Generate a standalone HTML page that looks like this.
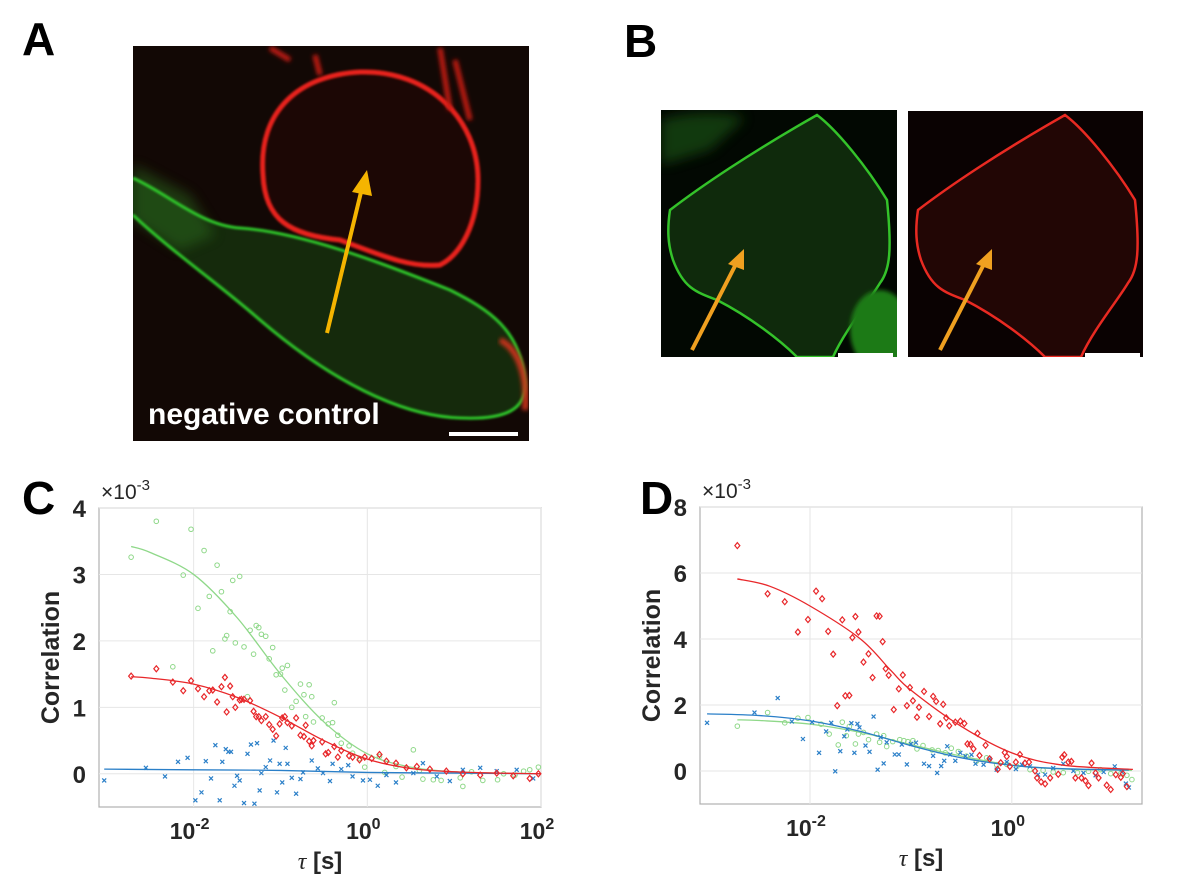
<!DOCTYPE html>
<html><head><meta charset="utf-8"><style>
html,body{margin:0;padding:0;background:#fff;}
svg{display:block;font-family:"Liberation Sans",Arial,sans-serif;}
</style></head><body>
<svg id="fig" width="1200" height="874" viewBox="0 0 1200 874" xmlns="http://www.w3.org/2000/svg">
<defs>
<filter id="blur2" x="-10%" y="-10%" width="120%" height="120%"><feGaussianBlur stdDeviation="2"/></filter>
<filter id="blur1"><feGaussianBlur stdDeviation="1"/></filter>
<filter id="blur6" x="-20%" y="-20%" width="140%" height="140%"><feGaussianBlur stdDeviation="6"/></filter>
<clipPath id="clipA"><rect x="133" y="46" width="396" height="395"/></clipPath>
<clipPath id="clipB1"><rect x="661" y="110" width="236" height="247"/></clipPath>
<clipPath id="clipB2"><rect x="908" y="111" width="235" height="246"/></clipPath>
</defs>
<text x="22" y="55" font-size="46" font-weight="bold">A</text>
<text x="624" y="57" font-size="46" font-weight="bold">B</text>
<text x="22" y="514" font-size="46" font-weight="bold">C</text>
<text x="640" y="514" font-size="46" font-weight="bold">D</text>

<g clip-path="url(#clipA)">
<rect x="133" y="46" width="396" height="395" fill="#120805"/>
<path d="M263,175 C258,110 300,75 360,72 C430,70 478,120 478,180 C478,225 460,255 440,265 C410,268 380,255 340,240 C290,235 265,220 263,175 Z" fill="#1c0705"/>
<path d="M133,178 C170,195 200,225 240,228 C300,232 380,262 450,290 C490,310 520,330 525,380 C528,410 505,420 460,418 C400,416 330,380 260,320 C220,285 170,250 133,215 Z" fill="#152a0c"/>
<path d="M133,165 L190,195 L215,235 L180,250 L133,220 Z" fill="#2a6a1a" filter="url(#blur6)" opacity="0.5"/>
<path d="M133,178 C170,195 200,225 240,228 C300,232 380,262 450,290 C490,310 520,330 525,380 C528,410 505,420 460,418 C400,416 330,380 260,320 C220,285 170,250 133,215" fill="none" stroke="#2ec82a" stroke-width="3" filter="url(#blur1)"/>
<path d="M263,175 C258,110 300,75 360,72 C430,70 478,120 478,180 C478,225 460,255 440,265 C410,268 380,255 340,240 C290,235 265,220 263,175 Z" fill="none" stroke="#e8241e" stroke-width="5" filter="url(#blur1)"/>
<path d="M270,48 L290,60 M315,55 L320,75 M440,48 L450,110 M455,60 L470,120" stroke="#c81a14" stroke-width="5" filter="url(#blur2)"/>
<path d="M500,340 C520,350 528,380 525,410" stroke="#c8321a" stroke-width="6" fill="none" filter="url(#blur2)"/>
<line x1="327" y1="333" x2="362" y2="188" stroke="#f5b400" stroke-width="4"/>
<polygon points="367,170 352,192 372,196" fill="#f5b400"/>
<text x="148" y="424" font-size="30" font-weight="bold" fill="#fff">negative control</text>
<rect x="449" y="432" width="69" height="4" fill="#fff"/>
</g>

<g clip-path="url(#clipB1)">
<rect x="661" y="110" width="236" height="247" fill="#020802"/>
<path d="M661,120 C690,110 730,112 745,118 L710,150 L661,165 Z" fill="#1a5a12" filter="url(#blur6)" opacity="0.6"/>
<path d="M670,210 C700,187 750,153 817,115 C837,130 867,167 887,200 C892,250 890,270 880,283 C870,300 845,330 833,357 L797,357 C780,340 750,317 717,300 C695,292 683,287 673,260 C668,245 667,230 670,210 Z" fill="#0f2a0c" stroke="#34c22a" stroke-width="2.5"/>
<ellipse cx="880" cy="330" rx="30" ry="40" fill="#1e7a18" filter="url(#blur2)"/>
<line x1="692" y1="350" x2="737" y2="262" stroke="#f0a020" stroke-width="4"/>
<polygon points="744,249 728,264 744,270" fill="#f0a020"/>
<rect x="838" y="353" width="55" height="4" fill="#fff"/>
</g>
<g clip-path="url(#clipB2)">
<rect x="908" y="111" width="235" height="246" fill="#0a0202"/>
<g transform="translate(248,0)">
<path d="M670,210 C700,187 750,153 817,115 C837,130 867,167 887,200 C892,250 890,270 880,283 C870,300 845,330 833,357 L797,357 C780,340 750,317 717,300 C695,292 683,287 673,260 C668,245 667,230 670,210 Z" fill="#220605" stroke="#e82a22" stroke-width="2.5"/>
</g>
<line x1="940" y1="350" x2="985" y2="262" stroke="#f0a020" stroke-width="4"/>
<polygon points="992,249 976,264 992,270" fill="#f0a020"/>
<rect x="1085" y="353" width="55" height="4" fill="#fff"/>
</g>
<g id="chartC"></g>
<g id="chartD"></g>
</svg>
<script>
// ---- Chart C data (x = log10 tau [s], y = correlation x1e-3) ----
const cGreenX=[-2.72,-2.43,-2.24,-2.12,-2.03,-1.95,-1.88,-1.82,-1.78,-1.73,-1.68,-1.64,-1.62,-1.58,-1.55,-1.52,-1.47,-1.42,-1.38,-1.35,-1.31,-1.28,-1.25,-1.22,-1.17,-1.13,-1.09,-1.05,-1.0,-0.98,-0.95,-0.92,-0.87,-0.82,-0.77,-0.73,-0.71,-0.67,-0.64,-0.62,-0.52,-0.45,-0.4,-0.38,-0.34,-0.3,-0.21,-0.17,-0.09,-0.03,0.14,0.2,0.33,0.4,0.53,0.6,0.64,0.76,0.85,1.07,1.1,1.2,1.33,1.5,1.57,1.7,1.8,1.87,1.97];
const cGreenY=[3.26,3.8,1.61,2.99,3.68,2.49,3.36,2.67,1.85,3.14,2.74,2.03,2.08,2.44,2.91,1.97,2.97,1.91,1.16,2.16,1.8,2.23,2.2,2.1,2.07,1.73,1.9,1.49,1.5,1.59,1.26,1.63,1.0,1.09,1.35,1.19,0.86,1.34,1.16,0.78,0.84,0.75,0.77,1.07,0.58,0.46,0.42,0.31,0.23,0.1,0.26,0.02,0.11,-0.05,0.36,0.05,-0.08,-0.09,-0.1,-0.06,-0.19,0.03,-0.1,-0.09,0,-0.02,0.04,0.06,0.1];
const cRedX=[-2.72,-2.43,-2.24,-2.12,-2.03,-1.95,-1.88,-1.82,-1.78,-1.73,-1.68,-1.64,-1.62,-1.58,-1.55,-1.52,-1.47,-1.45,-1.42,-1.35,-1.31,-1.28,-1.25,-1.22,-1.17,-1.13,-1.09,-1.05,-1.01,-0.98,-0.95,-0.92,-0.87,-0.82,-0.77,-0.73,-0.71,-0.67,-0.64,-0.62,-0.52,-0.48,-0.45,-0.38,-0.34,-0.3,-0.21,-0.17,-0.09,-0.03,0.05,0.14,0.22,0.33,0.45,0.57,0.72,0.91,1.1,1.3,1.49,1.68,1.87,1.97];
const cRedY=[1.47,1.58,1.38,1.25,1.4,1.28,1.16,1.25,1.26,1.08,1.31,1.45,0.93,1.32,1.16,1.0,1.11,1.12,1.12,1.1,0.94,0.86,0.86,0.8,0.86,0.74,0.67,0.57,0.75,0.84,0.86,0.77,0.72,0.84,0.58,0.56,0.73,0.49,0.42,0.5,0.48,0.3,0.32,0.41,0.25,0.35,0.27,0.25,0.21,0.25,0.23,0.29,0.19,0.16,0.09,0.11,0.07,0.04,0,-0.02,0.01,-0.03,-0.07,0];
const cBlueX=[-3.03,-2.55,-2.33,-2.18,-2.07,-1.98,-1.91,-1.86,-1.8,-1.75,-1.7,-1.67,-1.63,-1.6,-1.57,-1.53,-1.5,-1.47,-1.42,-1.38,-1.34,-1.3,-1.27,-1.24,-1.22,-1.17,-1.12,-1.08,-1.04,-1.01,-0.98,-0.94,-0.92,-0.87,-0.82,-0.77,-0.74,-0.64,-0.57,-0.51,-0.43,-0.4,-0.3,-0.22,-0.17,-0.05,0.03,0.12,0.22,0.33,0.53,0.64,0.8,0.95,1.1,1.3,1.49,1.72,1.91];
const cBlueY=[-0.1,0.09,-0.04,0.18,0.24,-0.4,-0.28,0.19,-0.07,0.43,-0.4,0.18,0.37,0.33,0.33,-0.18,-0.03,-0.1,-0.44,0.3,0.44,-0.45,0.46,-0.25,0.01,0.1,0.2,0.5,-0.28,0.15,-0.13,0.39,0.15,-0.06,-0.3,-0.08,0.02,0.2,0.08,0.01,-0.11,0.15,0.07,0.13,-0.04,-0.1,-0.09,-0.18,-0.02,-0.13,0.01,0.16,-0.04,-0.11,0.06,0.09,0.04,0.06,-0.07];
const cFitX=[-2.72,-2.5,-2.0,-1.5,-1.0,-0.5,0,0.5,1,1.5,2];
const cGreenFit=[3.42,3.33,3.0,2.35,1.5,0.78,0.3,0.1,0.03,0.01,0];
const cRedFit=[1.46,1.44,1.35,1.15,0.85,0.5,0.22,0.08,0.03,0.01,0];
const cBlueFitX=[-3.03,-2,-1,0,1,2];
const cBlueFit=[0.07,0.06,0.05,0.02,0.01,0];
const cYTicks=[0,1,2,3,4];
const cXTicks=[-2,0,2];
// ---- Chart D data ----
const dRedX=[-2.72,-2.42,-2.25,-2.12,-2.02,-1.94,-1.88,-1.82,-1.77,-1.73,-1.68,-1.65,-1.61,-1.58,-1.55,-1.52,-1.47,-1.42,-1.38,-1.34,-1.31,-1.28,-1.25,-1.22,-1.17,-1.12,-1.08,-1.04,-1.01,-0.98,-0.94,-0.92,-0.87,-0.82,-0.78,-0.75,-0.71,-0.68,-0.65,-0.62,-0.56,-0.51,-0.47,-0.44,-0.41,-0.38,-0.34,-0.32,-0.26,-0.22,-0.14,-0.11,-0.07,-0.05,-0.02,0.04,0.08,0.13,0.17,0.23,0.25,0.29,0.33,0.38,0.46,0.5,0.52,0.56,0.59,0.63,0.69,0.73,0.76,0.79,0.83,0.86,0.94,0.98,1.03,1.08,1.1,1.14];
const dRedY=[6.83,5.37,5.13,4.21,4.59,5.45,5.22,4.23,3.54,1.98,4.58,2.28,2.29,4.04,4.68,4.21,3.3,3.55,2.83,4.7,4.69,3.92,3.1,2.9,1.86,2.49,2.91,1.98,2.53,2.13,1.63,1.93,2.41,1.65,2.26,2.11,1.43,2.02,1.61,1.37,1.48,1.51,1.44,0.82,0.81,0.67,1.14,0.47,0.78,0.37,0.05,0.25,0.56,0.44,0.14,0.27,0.5,0.24,0.27,0,-0.21,-0.33,-0.39,-0.21,-0.1,0.42,0.49,0.27,0.29,-0.21,-0.21,-0.3,-0.44,0.24,-0.06,-0.21,-0.43,-0.56,-0.11,-0.19,-0.08,-0.47];
const dBlueX=[-3.02,-2.55,-2.32,-2.18,-2.07,-1.98,-1.91,-1.84,-1.79,-1.75,-1.7,-1.66,-1.63,-1.59,-1.56,-1.53,-1.51,-1.45,-1.41,-1.37,-1.33,-1.3,-1.27,-1.24,-1.16,-1.12,-1.09,-1.04,-1.0,-0.95,-0.87,-0.82,-0.78,-0.74,-0.7,-0.67,-0.64,-0.61,-0.56,-0.51,-0.46,-0.4,-0.36,-0.28,-0.22,-0.15,-0.05,0.04,0.1,0.18,0.26,0.33,0.41,0.51,0.61,0.71,0.83,0.91,1.02,1.09,1.13,1.16];
const dBlueY=[1.46,1.77,2.21,1.5,0.97,1.48,0.55,1.2,1.46,-0.01,0.6,1.05,1.26,1.45,0.55,1.43,1.32,0.77,0.58,1.65,0.04,1.02,0.23,0.87,0.5,0.5,0.8,0.2,0.82,0.86,0.22,0.15,0.46,-0.06,0.15,0.31,0.75,0.5,0.31,0.55,0.45,0.49,0.22,0.19,0.37,0.04,0.27,0.06,0.19,0.14,-0.11,-0.11,0.09,0.22,0,-0.06,-0.13,-0.03,0.14,-0.03,-0.38,-0.5];
const dGreenX=[-2.72,-2.42,-2.25,-2.12,-2.02,-1.89,-1.81,-1.72,-1.68,-1.64,-1.61,-1.55,-1.52,-1.47,-1.42,-1.34,-1.31,-1.27,-1.24,-1.18,-1.11,-1.07,-1.03,-0.98,-0.94,-0.88,-0.79,-0.73,-0.66,-0.6,-0.53,-0.45,-0.35,-0.25,-0.15,-0.05,0.05,0.18,0.31,0.41,0.51,0.65,0.76,0.88,0.98,1.08,1.14,1.19];
const dGreenY=[1.36,1.77,1.46,1.6,1.62,1.42,1.12,0.79,1.48,1.07,1.35,0.82,1.12,1.17,0.95,1.12,0.87,1.07,0.74,0.89,0.95,0.92,0.89,0.92,0.67,0.77,0.64,0.62,0.55,0.69,0.59,0.45,0.3,0.4,0.19,0.2,0.14,0.04,0.02,-0.03,-0.05,-0.05,-0.01,0.04,-0.08,-0.08,-0.13,-0.26];
const dRedFitX=[-2.72,-2.4,-2,-1.5,-1.2,-1,-0.5,0,0.5,1.2];
const dRedFit=[5.82,5.6,5.0,4.0,3.05,2.45,1.35,0.55,0.18,0.05];
const dBlueFitX=[-3.02,-2.5,-2,-1.5,-1,-0.5,0,0.5,1.16];
const dBlueFit=[1.73,1.68,1.52,1.2,0.77,0.4,0.17,0.07,0.03];
const dGreenFitX=[-2.72,-2.5,-2,-1.5,-1,-0.5,0,0.5,1.19];
const dGreenFit=[1.55,1.53,1.42,1.17,0.8,0.45,0.18,0.06,0.02];
const dYTicks=[0,2,4,6,8];
const dXTicks=[-2,0];

const NS='http://www.w3.org/2000/svg';
function mk(parent,tag,attrs){const e=document.createElementNS(NS,tag);for(const k in attrs)e.setAttribute(k,attrs[k]);parent.appendChild(e);return e;}
const RED='#e8272a',GREEN='#8fd889',BLUE='#2a7fc8';

function drawChart(g,cfg){
  const sx=v=>cfg.x0+(v-cfg.xmin)/(cfg.xmax-cfg.xmin)*(cfg.x1-cfg.x0);
  const sy=v=>cfg.y1-(v-cfg.ymin)/(cfg.ymax-cfg.ymin)*(cfg.y1-cfg.y0);
  const bg=mk(g,'rect',{x:cfg.x0,y:cfg.y0,width:cfg.x1-cfg.x0,height:cfg.y1-cfg.y0,fill:'#fff',stroke:'#b0b0b0','stroke-width':1.2});
  
  
  cfg.yticks.forEach(t=>{
    const l=mk(g,'line',{x1:cfg.x0,x2:cfg.x1,y1:sy(t),y2:sy(t),stroke:'#e6e6e6','stroke-width':1});
    
    
    const tx=mk(g,'text',{x:cfg.x0-13,y:sy(t)+9,'font-size':24,'font-weight':'bold','text-anchor':'end',fill:'#262626'});
    tx.textContent=t;
    
    
  });
  cfg.xticks.forEach(t=>{
    const l=mk(g,'line',{x1:sx(t),x2:sx(t),y1:cfg.y0,y2:cfg.y1,stroke:'#e6e6e6','stroke-width':1});
    
    
    const tx=mk(g,'text',{x:sx(t)-4,y:cfg.y1+32,'font-size':23,'font-weight':'bold','text-anchor':'middle',fill:'#262626'});
    tx.textContent='10';
    const sup=mk(tx,'tspan',{dy:-10,'font-size':16});sup.textContent=String(t);
    
    
  });
  const ex=mk(g,'text',{x:cfg.x0+2,y:cfg.y0-9,'font-size':21,fill:'#262626'});
  ex.textContent='\u00d710';const es=mk(ex,'tspan',{dy:-9,'font-size':15});es.textContent='-3';
  
  
  const yt=mk(g,'text',{x:0,y:0,'font-size':25,'font-weight':'bold','text-anchor':'middle',fill:'#262626',transform:`translate(${cfg.x0-40},${(cfg.y0+cfg.y1)/2}) rotate(-90)`});
  yt.textContent='Correlation';
  
  
  const xt=mk(g,'text',{x:(cfg.x0+cfg.x1)/2,y:cfg.y1+62,'font-size':24,'font-weight':'bold','text-anchor':'middle',fill:'#262626'});
  const tau=mk(xt,'tspan',{'font-family':'Liberation Serif,serif','font-style':'italic','font-weight':'normal'});tau.textContent='\u03c4';
  const rest=mk(xt,'tspan',{});rest.textContent=' [s]';
  
  
  cfg.series.forEach(s=>{
    const sg=mk(g,'g',{});
    
    
    s.xs.forEach((xv,i)=>{
      const px=sx(xv),py=sy(s.ys[i]);
      if(s.marker==='o'){const m=mk(sg,'circle',{cx:px,cy:py,r:2.3,fill:'none',stroke:s.color,'stroke-width':1});}
      else if(s.marker==='d'){const m=mk(sg,'polygon',{points:`${px},${py-3} ${px+2.5},${py} ${px},${py+3} ${px-2.5},${py}`,fill:'none',stroke:s.color,'stroke-width':1.2});}
      else {const m=mk(sg,'path',{d:`M${px-2},${py-2}L${px+2},${py+2}M${px-2},${py+2}L${px+2},${py-2}`,stroke:s.color,'stroke-width':1.2});}
    });
    const pts=s.fx.map((xv,i)=>[sx(xv),sy(s.fy[i])]);
    let d='M'+pts[0][0]+','+pts[0][1];
    for(let i=0;i<pts.length-1;i++){
      const p0=pts[Math.max(0,i-1)],p1=pts[i],p2=pts[i+1],p3=pts[Math.min(pts.length-1,i+2)];
      const c1=[p1[0]+(p2[0]-p0[0])/6,p1[1]+(p2[1]-p0[1])/6],c2=[p2[0]-(p3[0]-p1[0])/6,p2[1]-(p3[1]-p1[1])/6];
      d+=`C${c1[0]},${c1[1]} ${c2[0]},${c2[1]} ${p2[0]},${p2[1]}`;
    }
    const fl=mk(sg,'path',{d:d,fill:'none',stroke:s.color,'stroke-width':1.3});
    
    
  });
}
drawChart(document.getElementById('chartC'),{x0:99,x1:541,y0:508,y1:807,xmin:-3.09,xmax:2,ymin:-0.5,ymax:4,yticks:cYTicks,xticks:cXTicks,
  series:[
    {name:'series-green',color:GREEN,marker:'o',xs:cGreenX,ys:cGreenY,fx:cFitX,fy:cGreenFit},
    {name:'series-blue',color:BLUE,marker:'x',xs:cBlueX,ys:cBlueY,fx:cBlueFitX,fy:cBlueFit},
    {name:'series-red',color:RED,marker:'d',xs:cRedX,ys:cRedY,fx:cFitX,fy:cRedFit}]});
drawChart(document.getElementById('chartD'),{x0:700,x1:1142,y0:507,y1:804,xmin:-3.09,xmax:1.29,ymin:-1,ymax:8,yticks:dYTicks,xticks:dXTicks,
  series:[
    {name:'series-green',color:GREEN,marker:'o',xs:dGreenX,ys:dGreenY,fx:dGreenFitX,fy:dGreenFit},
    {name:'series-blue',color:BLUE,marker:'x',xs:dBlueX,ys:dBlueY,fx:dBlueFitX,fy:dBlueFit},
    {name:'series-red',color:RED,marker:'d',xs:dRedX,ys:dRedY,fx:dRedFitX,fy:dRedFit}]});
</script>
</body></html>
